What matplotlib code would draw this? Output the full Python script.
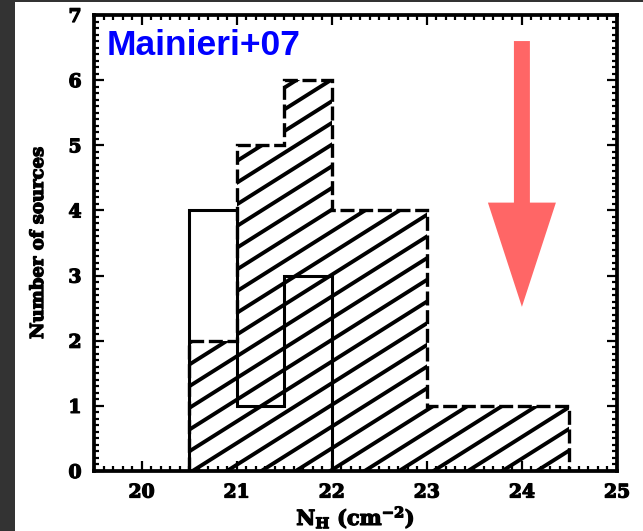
import matplotlib
matplotlib.use("Agg")
import matplotlib.pyplot as plt
import matplotlib.patheffects as pe
import numpy as np
from matplotlib.patches import Rectangle, FancyArrow
from matplotlib.ticker import MultipleLocator
from matplotlib.collections import LineCollection

# histogram edges / counts
edges_solid = [20.5, 21.0, 21.5, 22.0]
counts_solid = [4, 1, 3]
edges_hatch = [20.5, 21.0, 21.5, 22.0, 22.5, 23.0, 23.5, 24.0, 24.5]
counts_hatch = [2, 5, 6, 4, 4, 1, 1, 1]
xticks = [20, 21, 22, 23, 24, 25]
yticks = [0, 1, 2, 3, 4, 5, 6, 7]
label_text = "Mainieri+07"

plt.rcParams['mathtext.fontset'] = 'dejavuserif'
plt.rcParams['mathtext.default'] = 'bf'

heavy = [pe.withStroke(linewidth=0.9, foreground='black')]

fig = plt.figure(figsize=(6.43, 5.31), dpi=100, facecolor='#333333')
# white page, dark strip on the left and top
fig.patches.append(Rectangle((15/643, 0), 1, (531-2)/531, transform=fig.transFigure,
                             facecolor='white', edgecolor='none', zorder=-10))

ax = fig.add_axes([94/643, 60/531, 523/643, 456/531])
ax.set_xlim(19.5, 25)
ax.set_ylim(0, 7)

##### hatched, dashed histogram
poly = ax.stairs(counts_hatch, edges_hatch, fill=True, facecolor='none',
                 edgecolor='none', zorder=2)
ax.stairs(counts_hatch, edges_hatch, color='black', lw=2.4,
          linestyle=(0, (4.2, 1.4)), zorder=3)
# diagonal hatch lines clipped to the histogram
slope = 0.92
segs = []
for y0 in np.arange(0.30 - 0.333*20, 7, 0.333):
    segs.append([(19.0, y0 + slope*(19.0 - 20.5)), (26.0, y0 + slope*(26.0 - 20.5))])
lc = LineCollection(segs, colors='black', linewidths=2.8, zorder=2)
lc.set_clip_path(poly)
ax.add_collection(lc)

##### open, solid histogram
ax.stairs(counts_solid, edges_solid, color='black', lw=2.2, zorder=4)

##### red arrow
ax.add_patch(FancyArrow(24.0, 6.6, 0, -4.08, width=0.168, head_width=0.715,
                        head_length=1.6, length_includes_head=True,
                        color='#ff6666', lw=0, zorder=5))

ax.text(0.025, 0.933, label_text, transform=ax.transAxes, color='#0000ff',
        fontsize=25.5, fontweight='bold', family='Liberation Sans',
        ha='left', va='center')

##### axes style
for s in ax.spines.values():
    s.set_linewidth(2.7)
ax.set_xticks(xticks)
ax.set_yticks(yticks)
ax.xaxis.set_minor_locator(MultipleLocator(0.1))
ax.yaxis.set_minor_locator(MultipleLocator(0.1))
ax.tick_params(which='both', direction='in', top=True, right=True, width=1.6)
ax.tick_params(which='major', length=7.5, pad=9)
ax.tick_params(which='minor', length=3.8)
for lab in ax.get_xticklabels() + ax.get_yticklabels():
    lab.set_family('DejaVu Serif')
    lab.set_fontweight('bold')
    lab.set_fontsize(13.5)
    lab.set_path_effects(heavy)

ax.set_xlabel(r'N$_\mathbf{H}$ (cm$^{\mathbf{-2}}$)', family='DejaVu Serif',
              fontweight='bold', fontsize=15, path_effects=heavy)
ax.set_ylabel('Number of sources', family='DejaVu Serif',
              fontweight='bold', fontsize=13, path_effects=heavy)
ax.xaxis.set_label_coords(0.5, -0.103)
ax.xaxis.label.set_va('center')
ax.yaxis.set_label_coords(-0.107, 0.5)
ax.yaxis.label.set_va('center')

fig.savefig('out.png', dpi=100, facecolor=fig.get_facecolor())
